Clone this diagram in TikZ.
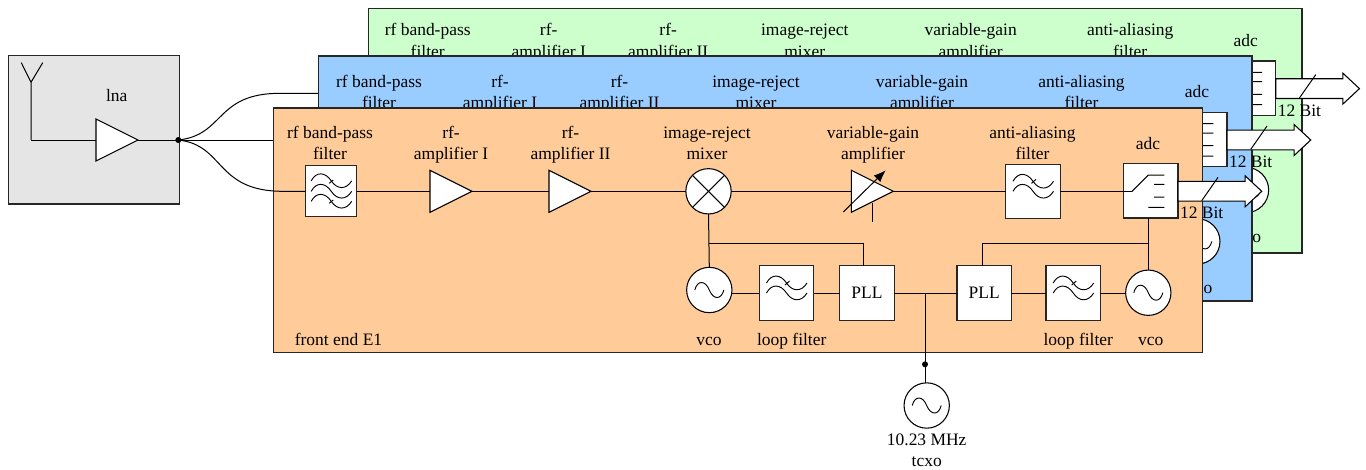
\documentclass[tikz,border=0pt]{standalone}
\usepackage{fontspec}
\setmainfont{Liberation Serif}
\usetikzlibrary{shapes.geometric,shapes.arrows,arrows.meta}
\definecolor{grayfill}{HTML}{E5E5E5}
\definecolor{orangefill}{HTML}{FFCC99}
\definecolor{bluefill}{HTML}{99CCFF}
\definecolor{greenfill}{HTML}{CCFFCC}
\tikzset{
  x=.75pt,y=-.75pt,
  wire/.style={draw=black,line width=.75pt},
  frameb/.style={draw=black!85,line width=.9pt,rectangle,inner sep=0pt,outer sep=0pt},
  blockb/.style={draw=black!85,fill=white,line width=.9pt,rectangle,inner sep=0pt,outer sep=0pt,minimum size=40.8pt,font=\fontsize{13.1}{16}\selectfont},
  roundb/.style={draw=black,fill=white,line width=.8pt,circle,inner sep=0pt,outer sep=0pt,minimum size=34pt},
  ampb/.style={draw=black,fill=white,line width=.8pt,isosceles triangle,isosceles triangle stretches,shape border rotate=0,inner sep=0pt,outer sep=0pt,minimum width=31.5pt,minimum height=31.5pt,anchor=lower side},
  dotb/.style={circle,fill=black,inner sep=0pt,outer sep=0pt,minimum size=4.5pt},
  busb/.style={draw=black,fill=white,line width=.8pt,single arrow,single arrow head indent=0pt,single arrow head extend=4.24pt,single arrow tip angle=86,inner xsep=0pt,inner ysep=7pt,outer sep=0pt,minimum height=62.8pt,anchor=tail},
  labelb/.style={align=center,inner sep=0pt,font=\fontsize{13.1}{16}\selectfont},
}
\newcommand{\twolines}[2]{\strut #1\\\strut #2}
% wave glyphs, drawn around a node centre
\newcommand{\wavepath}[1]{\draw[wire,line width=.7pt] (-20,#1) .. controls (-15,#1-9.5) and (-6,#1-9) .. (0,#1) .. controls (6,#1+9) and (15,#1+9) .. (20.5,#1);}
\newcommand{\twowave}[1]{\begin{scope}[shift={(#1.center)}]\wavepath{-10}\wavepath{0}\draw[wire,line width=.7pt] (-1.5,-8) -- (3,-12);\end{scope}}
\newcommand{\threewave}[1]{\begin{scope}[shift={(#1.center)}]\wavepath{-10.5}\wavepath{0}\wavepath{10}\draw[wire,line width=.7pt] (-2,-8) -- (2,-11.3) (-2,12) -- (2,8.7);\end{scope}}
\newcommand{\sinewave}[1]{\begin{scope}[shift={(#1.center)}]\draw[wire,line width=.7pt] (-14.5,0) .. controls (-12,-10) and (-4,-10) .. (0,0) .. controls (4,10) and (12,10) .. (14.5,0);\end{scope}}
\newcommand{\switchglyph}[1]{\begin{scope}[shift={(#1.center)}]\draw[wire] (-19.2,.9) -- (-2.5,-15.8) -- (13.5,-15.8) (3.2,-6.5) -- (13.5,-6.5) (3.2,6.2) -- (13.5,6.2) (-2.5,16.5) -- (13.5,16.5);\end{scope}}
% everything that each of the three front ends prints with the same geometry
\newcommand{\commonparts}[1]{
  \node[labelb] (#1rf)  at (330,145) {\twolines{rf band-pass}{filter}};
  \node[labelb] (#1a1)  at (451,145) {\twolines{rf-}{amplifier I}};
  \node[labelb] (#1a2)  at (570.5,145) {\twolines{rf-}{amplifier II}};
  \node[labelb] (#1irm) at (707,145) {\twolines{image-reject}{mixer}};
  \node[labelb] (#1vg)  at (873,145) {\twolines{variable-gain}{amplifier}};
  \node[labelb] (#1aa)  at (1032.5,145) {\twolines{anti-aliasing}{filter}};
  \node[labelb] (#1adl) at (1148,143.3) {adc};
  \node[labelb] (#1vcl) at (1150.7,341) {vco};
  \node[roundb] (#1vco) at (1148.3,292.7) {};
  \sinewave{#1vco}
  \node[blockb] (#1adc) at (1150.85,190.8) {};
  \switchglyph{#1adc}
  \node[busb] (#1bus) at (1178,191.3) {};
  \draw[wire] ([shift={(23.65,9.9)}]#1adc.east) -- ([shift={(40,-13.5)}]#1adc.east);
  \node[labelb] (#1bit) at (1201.7,213) {12 Bit};
}
\begin{document}
\begin{tikzpicture}
\useasboundingbox (0,0) rectangle (1366,469);
% lna box
\node[frameb,fill=grayfill,minimum width=128.25pt,minimum height=111.5pt] (lnabox) at (93.8,129.65) {};
\node[labelb] (lnal) at (116.7,95.5) {lna};
\coordinate (antbase) at (31,140);
\coordinate (anttop) at (31,82.3);
\coordinate (antl) at (21.3,62.7);
\coordinate (antr) at (42.7,62.7);
\draw[wire] (antl) -- (anttop) -- (antr) (anttop) -- (antbase);
\node[ampb] (lna) at (96,140) {};
\node[dotb] (split) at (178.3,140) {};
\draw[wire] (antbase) -- (lna.lower side);
\draw[wire] (lna.apex) -- (split.center);
% green
\node[frameb,fill=greenfill,minimum width=700pt,minimum height=183.5pt] (fg) at (835.35,130.65) {};
\begin{scope}[shift={(97.7,-102.7)}]\commonparts{g}\end{scope}
% blue
\node[frameb,fill=bluefill,minimum width=700.3pt,minimum height=183.75pt] (fb) at (785.15,178.5) {};
\begin{scope}[shift={(49,-51.3)}]\commonparts{b}\end{scope}
% orange
\node[frameb,fill=orangefill,minimum width=697pt,minimum height=183.5pt] (fo) at (737.9,230.3) {};
\commonparts{o}
\node[labelb] (fel) at (338.5,339) {front end E1};
\node[blockb,minimum size=38.25pt] (filt1) at (331.2,191.3) {};
\threewave{filt1}
\node[ampb] (amp1) at (430,191.3) {};
\node[ampb] (amp2) at (549,191.3) {};
\node[roundb] (mix) at (708.5,191.3) {};
\draw[wire] ([shift={(-16,-16)}]mix.center) -- ([shift={(16,16)}]mix.center);
\draw[wire] ([shift={(-16,16)}]mix.center) -- ([shift={(16,-16)}]mix.center);
\node[ampb] (vga) at (851.3,191.3) {};
\node[blockb] (filt2) at (1033,191.3) {};
\twowave{filt2}
\node[roundb] (vco1) at (709.3,290) {};
\sinewave{vco1}
\node[blockb] (lf1) at (786.5,293) {};
\twowave{lf1}
\node[blockb] (pll1) at (867,293) {PLL};
\node[blockb] (pll2) at (984.2,293) {PLL};
\node[blockb] (lf2) at (1073.2,293) {};
\twowave{lf2}
\node[labelb] (vcol) at (709,341) {vco};
\node[labelb] (lfl1) at (791.7,341) {loop filter};
\node[labelb] (lfl2) at (1078.3,341) {loop filter};
% signal chain
\coordinate (bwire) at (280,93.3);
\coordinate (owire) at (283,191.3);
\draw[wire] (split.center) .. controls (225,135) and (215,93.3) .. (bwire) -- (fb.west |- bwire);
\draw[wire] (split.center) -- (fo.west |- split);
\draw[wire] (split.center) .. controls (225,145) and (215,191.3) .. (owire) -- (filt1.west);
\draw[wire] (filt1.east) -- (amp1.lower side);
\draw[wire] (amp1.apex) -- (amp2.lower side);
\draw[wire] (amp2.apex) -- (mix.west);
\draw[wire] (mix.east) -- (vga.lower side);
\draw[wire] (vga.apex) -- (filt2.west);
\coordinate (swin) at (1131.7,191.3);
\draw[wire] (filt2.east) -- (swin);
\draw[wire,-{Latex[length=9pt,width=7pt]}] ([shift={(-8,20.7)}]vga.lower side) -- ([shift={(34.4,-21)}]vga.lower side);
\draw[wire] ([shift={(21.4,11.5)}]vga.lower side) -- ([shift={(21.4,30.7)}]vga.lower side);
% local oscillators
\coordinate (jl) at (708.7,243.3);
\coordinate (jr) at (1147.7,243.3);
\draw[wire] (mix.south) -- (vco1.north);
\draw[wire] (jl) -| ([xshift=-3pt]pll1.north);
\draw[wire] (lf1.west) -- (lf1.west -| vco1.east);
\draw[wire] (lf1.east) -- (pll1.west);
\draw[wire] (pll1.east) -- (pll2.west);
\draw[wire] (pll2.east) -- (lf2.west);
\draw[wire] (lf2.east) -- (lf2.east -| ovco.west);
\draw[wire] (ovco.north) -- (ovco.north |- oadc.south);
\draw[wire] (jr) -| ([xshift=-1.5pt]pll2.north);
% tcxo
\coordinate (tj) at (925,293);
\node[dotb] (tdot) at (925,364.3) {};
\node[roundb] (tcxo) at (926.7,405.5) {};
\sinewave{tcxo}
\draw[wire] (tj) -- (tdot.center) -- (tdot.center |- tcxo.north);
\node[labelb] (tl1) at (926.7,440) {10.23 MHz};
\node[labelb] (tl2) at (926.7,461.7) {tcxo};
\end{tikzpicture}
\end{document}
